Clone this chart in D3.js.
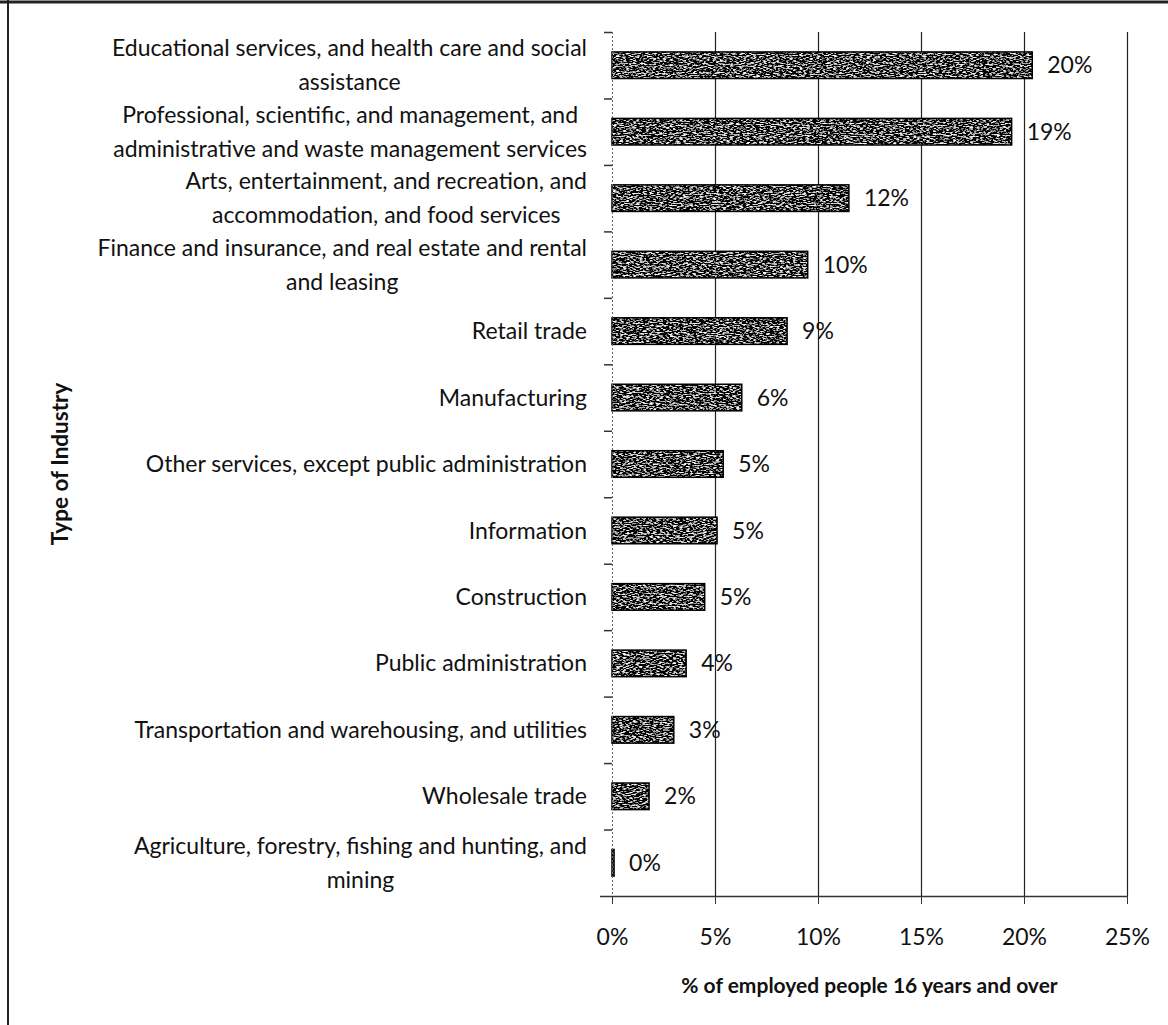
<!DOCTYPE html>
<html>
<head>
<meta charset="utf-8">
<script src="https://cdn.jsdelivr.net/npm/d3@7"></script>
<style>
  body { margin: 0; background: #fff; }
  svg text { font-family: Lato, "Open Sans", sans-serif; fill: #111; }
</style>
</head>
<body>
<svg id="chart" width="1168" height="1025"></svg>
<script>
// industry shares (top to bottom)
const categories = [
  'Educational services, and health care and social\nassistance',
  'Professional, scientific, and management, and\nadministrative and waste management services',
  'Arts, entertainment, and recreation, and\naccommodation, and food services',
  'Finance and insurance, and real estate and rental\nand leasing',
  'Retail trade',
  'Manufacturing',
  'Other services, except public administration',
  'Information',
  'Construction',
  'Public administration',
  'Transportation and warehousing, and utilities',
  'Wholesale trade',
  'Agriculture, forestry, fishing and hunting, and\nmining'
];

const values = [20.4, 19.4, 11.5, 9.5, 8.5, 6.3, 5.4, 5.1, 4.5, 3.6, 3.0, 1.8, 0.1];

const valueLabels = ['20%', '19%', '12%', '10%', '9%', '6%', '5%', '5%', '5%', '4%', '3%', '2%', '0%'];

const xTicks = [0, 5, 10, 15, 20, 25];

const xTitle = '% of employed people 16 years and over';
const yTitle = 'Type of Industry';

const svg = d3.select('#chart');

const plot = { left: 612, right: 1127, top: 32, bottom: 896 };
const ink = '#111';

// noisy scanned-looking fill for the bars
const defs = svg.append('defs');
const grain = defs.append('filter')
    .attr('id', 'grain')
    .attr('x', 0).attr('y', 0)
    .attr('width', 1).attr('height', 1);
grain.append('feTurbulence')
    .attr('type', 'fractalNoise')
    .attr('baseFrequency', '0.3 0.9')
    .attr('numOctaves', 2)
    .attr('seed', 7)
    .attr('result', 'noise');
grain.append('feColorMatrix')
    .attr('in', 'noise')
    .attr('type', 'matrix')
    .attr('values', '4 0 0 0 -1.95  4 0 0 0 -1.95  4 0 0 0 -1.95  0 0 0 0 1')
    .attr('result', 'gray');
grain.append('feComposite')
    .attr('in', 'gray')
    .attr('in2', 'SourceGraphic')
    .attr('operator', 'in');

svg.append('rect')
    .attr('width', 1168)
    .attr('height', 1025)
    .attr('fill', '#fff');

// frame of the scan (top and left edges)
svg.append('line')
    .attr('x1', 0).attr('x2', 1168)
    .attr('y1', 2).attr('y2', 2)
    .attr('stroke', '#222')
    .attr('stroke-width', 3);
svg.append('line')
    .attr('x1', 8).attr('x2', 8)
    .attr('y1', 0).attr('y2', 1025)
    .attr('stroke', '#222')
    .attr('stroke-width', 2);

// scales

const x = d3.scaleLinear()
    .domain([0, 25])
    .range([plot.left, plot.right]);

const y = d3.scaleBand()
    .domain(categories)
    .range([plot.top, plot.bottom])
    .paddingInner(0.6)
    .paddingOuter(0.3);

const step = y.step();

// vertical gridlines

svg.append('g')
    .attr('class', 'grid')
  .selectAll('line')
  .data(xTicks.filter(d => d > 0))
  .join('line')
    .attr('x1', d => x(d) + 0.5)
    .attr('x2', d => x(d) + 0.5)
    .attr('y1', plot.top)
    .attr('y2', plot.bottom)
    .attr('stroke', '#222')
    .attr('stroke-width', 1.2);

// bars

const bars = svg.append('g').attr('class', 'bars');

bars.selectAll('.bar-fill')
  .data(values)
  .join('rect')
    .attr('class', 'bar-fill')
    .attr('x', x(0))
    .attr('y', (d, i) => y(categories[i]))
    .attr('width', d => x(d) - x(0))
    .attr('height', y.bandwidth())
    .attr('fill', '#555')
    .attr('filter', 'url(#grain)');

bars.selectAll('.bar-edge')
  .data(values)
  .join('rect')
    .attr('class', 'bar-edge')
    .attr('x', x(0))
    .attr('y', (d, i) => y(categories[i]))
    .attr('width', d => x(d) - x(0))
    .attr('height', y.bandwidth())
    .attr('fill', 'none')
    .attr('stroke', '#000')
    .attr('stroke-width', 1.5);

// value labels

svg.append('g')
    .attr('class', 'value-labels')
  .selectAll('text')
  .data(values)
  .join('text')
    .attr('x', d => x(d) + 15)
    .attr('y', (d, i) => y(categories[i]) + y.bandwidth() / 2)
    .attr('dy', '0.35em')
    .attr('font-size', 23)
    .text((d, i) => valueLabels[i]);

// x axis

const xAxis = d3.axisBottom(x)
    .tickValues(xTicks)
    .tickFormat(d => d + '%')
    .tickSize(8);

svg.append('g')
    .attr('class', 'x axis')
    .attr('transform', `translate(0, ${plot.bottom})`)
    .call(xAxis)
    .call(g => g.select('.domain').remove())
    .call(g => g.selectAll('.tick line').attr('stroke', '#333'))
    .call(g => g.selectAll('.tick text')
        .attr('y', 41)
        .attr('dy', '0.35em')
        .attr('font-size', 23)
        .attr('font-family', null)
        .attr('fill', ink));

svg.append('line')
    .attr('x1', plot.left - 12)
    .attr('x2', plot.right)
    .attr('y1', plot.bottom + 0.5)
    .attr('y2', plot.bottom + 0.5)
    .attr('stroke', '#333')
    .attr('stroke-width', 1.5);

// y axis: faint dotted line, ticks between categories

svg.append('line')
    .attr('x1', plot.left + 0.5)
    .attr('x2', plot.left + 0.5)
    .attr('y1', plot.top)
    .attr('y2', plot.bottom)
    .attr('stroke', '#666')
    .attr('stroke-dasharray', '2,2');

svg.append('g')
    .attr('class', 'y-ticks')
  .selectAll('line')
  .data(d3.range(categories.length))
  .join('line')
    .attr('x1', plot.left - 8)
    .attr('x2', plot.left)
    .attr('y1', i => plot.top + i * step + 0.5)
    .attr('y2', i => plot.top + i * step + 0.5)
    .attr('stroke', '#333')
    .attr('stroke-width', 1.5);

// category labels: right-aligned block, lines centred within it

const labelRight = 587;
const lineGap = 34;

const catLabels = svg.append('g')
    .attr('class', 'category-labels')
  .selectAll('text')
  .data(categories)
  .join('text')
    .attr('font-size', 23)
    .attr('text-anchor', 'middle');

catLabels.each(function(d) {
  const lines = d.split('\n');
  const cy = y(d) + y.bandwidth() / 2;
  const text = d3.select(this);
  const spans = text.selectAll('tspan')
    .data(lines)
    .join('tspan')
      .attr('y', (l, j) => cy + (j - (lines.length - 1) / 2) * lineGap)
      .attr('dy', '0.35em')
      .text(l => l);
  let maxW = 0;
  spans.each(function() { maxW = Math.max(maxW, this.getComputedTextLength()); });
  spans.attr('x', labelRight - maxW / 2);
});

// axis titles

svg.append('text')
    .attr('x', (plot.left + plot.right) / 2)
    .attr('y', 986)
    .attr('dy', '0.35em')
    .attr('text-anchor', 'middle')
    .attr('font-size', 21)
    .attr('font-weight', 'bold')
    .text(xTitle);

svg.append('text')
    .attr('transform', `translate(60, ${(plot.top + plot.bottom) / 2}) rotate(-90)`)
    .attr('dy', '0.35em')
    .attr('text-anchor', 'middle')
    .attr('font-size', 22.5)
    .attr('font-weight', 'bold')
    .text(yTitle);
</script>
</body>
</html>
